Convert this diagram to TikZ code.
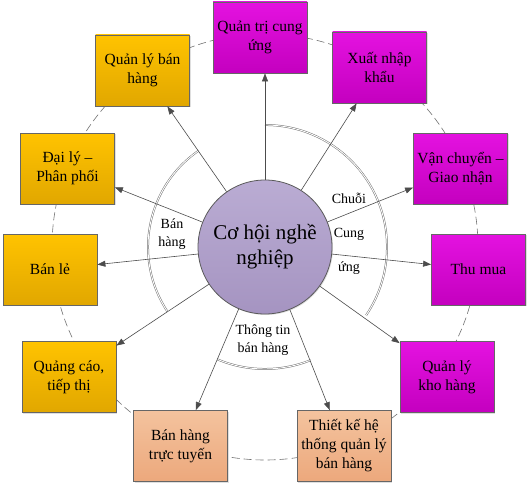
\documentclass[tikz,border=0pt]{standalone}
\usepackage{fontspec}
\setmainfont{Liberation Serif}
\usepackage{xcolor}
\usepackage{tikz}
\usetikzlibrary{arrows.meta,positioning,shadows,calc}
\definecolor{goldtop}{HTML}{FFC300}
\definecolor{goldbot}{HTML}{E1A700}
\definecolor{magtop}{HTML}{E412E0}
\definecolor{magbot}{HTML}{C400BF}
\definecolor{peachtop}{HTML}{F4C39E}
\definecolor{peachbot}{HTML}{ECA87C}
\definecolor{hubtop}{HTML}{BAACD3}
\definecolor{hubbot}{HTML}{A594C1}

\begin{document}
\begin{tikzpicture}[
    x=1pt, y=-1pt,
    card/.style={draw=black!60, line width=0.8pt, align=center, minimum width=94pt, minimum height=71pt,
                 inner sep=1pt, font=\fontsize{15.5}{19}\selectfont,
                 drop shadow={shadow xshift=1pt, shadow yshift=-1pt, opacity=0.25}},
    sale/.style={card, top color=goldtop, bottom color=goldbot},
    supply/.style={card, top color=magtop, bottom color=magbot},
    info/.style={card, top color=peachtop, bottom color=peachbot},
    hub/.style={circle, draw=black!65, line width=0.8pt, minimum size=134pt, align=center,
                top color=hubtop, bottom color=hubbot, font=\fontsize{21}{25}\selectfont,
                drop shadow={shadow xshift=1pt, shadow yshift=-1pt, opacity=0.25}},
    tag/.style={align=center, font=\fontsize{14}{18}\selectfont},
    arrow/.style={-{Triangle[length=8pt,width=6pt]}, draw=black!70, line width=0.6pt},
    band/.style={draw=black!55, double=white, double distance=0.9pt, line width=0.5pt},
    ring/.style={draw=black!55, dashed, dash pattern=on 8pt off 4pt, line width=0.6pt}
]
\useasboundingbox (0,0) rectangle (532,487);

% dashed ring behind the boxes
\draw[ring] (265,247) circle[radius=213];

% sector bands (angles negated: y axis points down)
\draw[band] (265,247) ++(-90:122) arc[start angle=-90, end angle=34, radius=122];
\draw[band] (265,247) ++(-124.6:117) arc[start angle=-124.6, end angle=-213.4, radius=117];
\draw[band] (265,247) ++(-247:122) arc[start angle=-247, end angle=-292, radius=122];

\node[hub] (hub) at (265,247) {Cơ hội nghề\\nghiệp};

% supply chain
\node[supply] (qtcu) at (260,37.5) {Quản trị cung\\ứng};
\node[supply] (xnk) at (379.5,67.5) {Xuất nhập\\khẩu};
\node[supply] (vcgn) at (460.5,168.5) {Vận chuyển –\\Giao nhận};
\node[supply] (thumua) at (478.5,269.5) {Thu mua};
\node[supply] (qlkho) at (447,377) {Quản lý\\kho hàng};

% sales information
\node[info] (tkht) at (344,446) {Thiết kế hệ\\thống quản lý\\bán hàng};
\node[info] (bhtt) at (180.5,446) {Bán hàng\\trực tuyến};

% sales
\node[sale] (qctt) at (69,377) {Quảng cáo,\\tiếp thị};
\node[sale] (banle) at (50,269.5) {Bán lẻ};
\node[sale] (daily) at (67.5,168.5) {Đại lý –\\Phân phối};
\node[sale] (qlbh) at (142.5,70.5) {Quản lý bán\\hàng};

\node[tag] (lbh) at (172,234) {Bán\\hàng};
\node[tag, font=\fontsize{14}{34}\selectfont] (lccu) at (349,234) {Chuỗi\\Cung\\ứng};
\node[tag] (lttbh) at (263,340) {Thông tin\\bán hàng};

\draw[arrow] (hub) -- (hub |- qtcu.south);
\foreach \t in {xnk,vcgn,thumua,qlkho,tkht,bhtt,qctt,banle,daily,qlbh}
  \draw[arrow] (hub) -- (\t);
\end{tikzpicture}
\end{document}
